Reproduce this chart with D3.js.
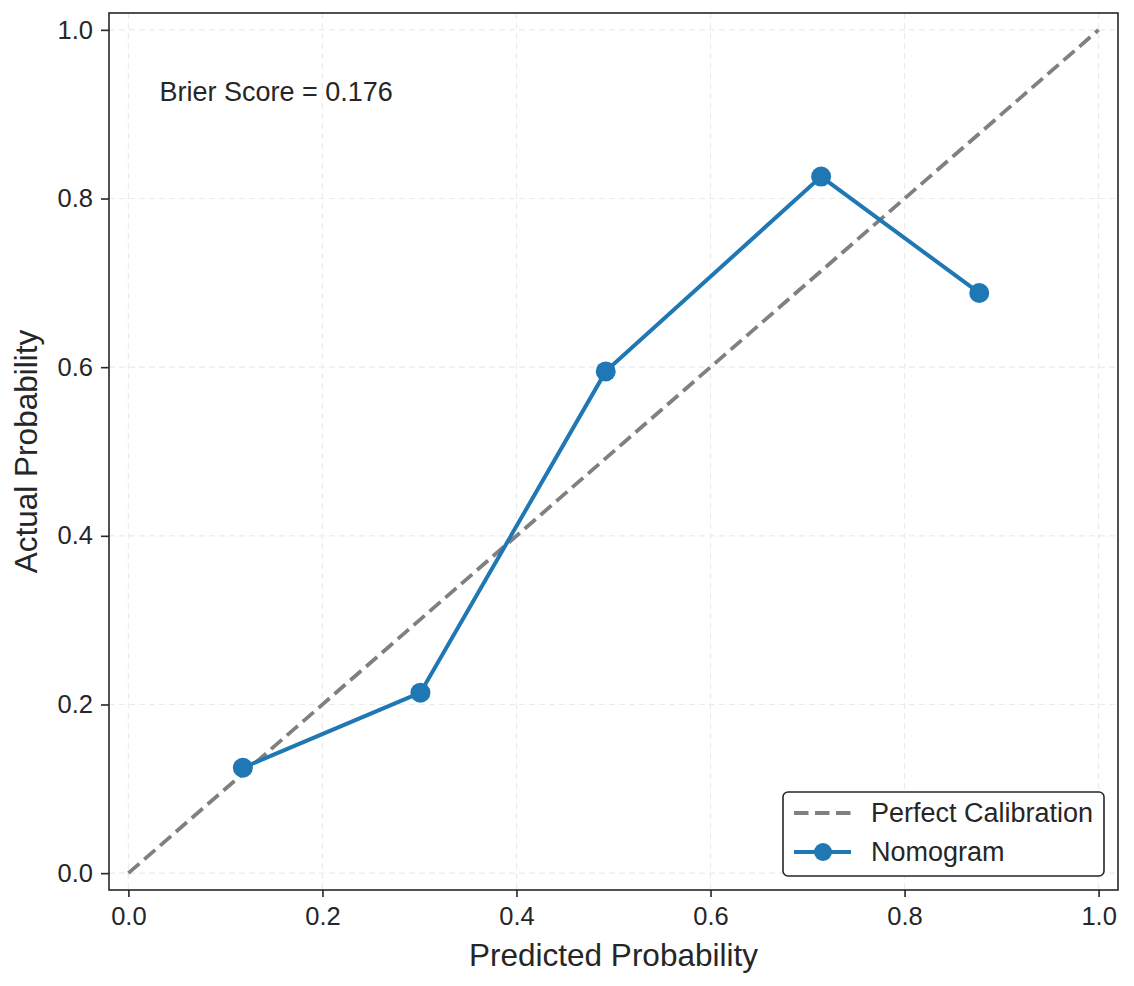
<!DOCTYPE html>
<html>
<head>
<meta charset="utf-8">
<script src="https://cdn.jsdelivr.net/npm/d3@7"></script>
<style>
  body { margin: 0; background: #fff; }
  text { font-family: "Liberation Sans", Arial, sans-serif; fill: #262626; }
</style>
</head>
<body>
<div id="chart"></div>
<script>
const predicted = [0.118, 0.301, 0.492, 0.714, 0.877];
const actual = [0.125, 0.214, 0.595, 0.826, 0.688];
const ticks = [0.0, 0.2, 0.4, 0.6, 0.8, 1.0];
const brier = 0.176;

const W = 1134, H = 986;
const margin = {top: 13, right: 16, bottom: 96, left: 109};
const width = W - margin.left - margin.right;
const height = H - margin.top - margin.bottom;

const svg = d3.select("#chart").append("svg")
  .attr("width", W).attr("height", H);
const g = svg.append("g")
  .attr("transform", `translate(${margin.left},${margin.top})`);

const x = d3.scaleLinear().domain([-0.02, 1.02]).range([0, width]);
const y = d3.scaleLinear().domain([-0.02, 1.02]).range([height, 0]);

// grid
g.append("g").selectAll("line").data(ticks).enter().append("line")
  .attr("x1", d => x(d)).attr("x2", d => x(d))
  .attr("y1", 0).attr("y2", height)
  .attr("stroke", "#ebebeb").attr("stroke-width", 1.2).attr("stroke-dasharray", "6,4");
g.append("g").selectAll("line").data(ticks).enter().append("line")
  .attr("y1", d => y(d)).attr("y2", d => y(d))
  .attr("x1", 0).attr("x2", width)
  .attr("stroke", "#ebebeb").attr("stroke-width", 1.2).attr("stroke-dasharray", "6,4");

// axes
const xAxis = g.append("g")
  .attr("transform", `translate(0,${height})`)
  .call(d3.axisBottom(x).tickValues(ticks).tickFormat(d3.format(".1f")).tickSize(7).tickPadding(10));
const yAxis = g.append("g")
  .call(d3.axisLeft(y).tickValues(ticks).tickFormat(d3.format(".1f")).tickSize(8).tickPadding(8));
[xAxis, yAxis].forEach(a => {
  a.select(".domain").remove();
  a.selectAll("line").attr("stroke", "#262626").attr("stroke-width", 1.6);
  a.selectAll("text").style("font-size", "25.5px").attr("fill", "#262626");
});

// frame
g.append("rect").attr("width", width).attr("height", height)
  .attr("fill", "none").attr("stroke", "#262626").attr("stroke-width", 1.6);

// perfect calibration
g.append("line")
  .attr("x1", x(0)).attr("y1", y(0)).attr("x2", x(1)).attr("y2", y(1))
  .attr("stroke", "#808080").attr("stroke-width", 3.8).attr("stroke-dasharray", "14.5,6.5");

const pts = predicted.map((p, i) => [p, actual[i]]);
g.append("path").datum(pts)
  .attr("fill", "none").attr("stroke", "#1f77b4").attr("stroke-width", 4)
  .attr("d", d3.line().x(d => x(d[0])).y(d => y(d[1])));
g.selectAll(".dot").data(pts).enter().append("circle")
  .attr("cx", d => x(d[0])).attr("cy", d => y(d[1])).attr("r", 10)
  .attr("fill", "#1f77b4");

// brier text
g.append("text").attr("x", x(0.032)).attr("y", y(0.927)).attr("dy", "0.35em")
  .style("font-size", "27px").text(`Brier Score = ${brier.toFixed(3)}`);

// axis labels
svg.append("text").attr("x", margin.left + width / 2).attr("y", 966)
  .attr("text-anchor", "middle").style("font-size", "31.5px").text("Predicted Probability");
svg.append("text").attr("transform", `translate(37,${margin.top + height / 2}) rotate(-90)`)
  .attr("text-anchor", "middle").style("font-size", "31.5px").text("Actual Probability");

// legend
const lg = svg.append("g").attr("transform", "translate(783,792)");
lg.append("rect").attr("width", 321).attr("height", 84).attr("rx", 5)
  .attr("fill", "#fff").attr("stroke", "#262626").attr("stroke-width", 1.6);
lg.append("line").attr("x1", 11).attr("x2", 68).attr("y1", 21).attr("y2", 21)
  .attr("stroke", "#808080").attr("stroke-width", 3.8).attr("stroke-dasharray", "14.5,6.5");
lg.append("line").attr("x1", 11).attr("x2", 68).attr("y1", 60).attr("y2", 60)
  .attr("stroke", "#1f77b4").attr("stroke-width", 4);
lg.append("circle").attr("cx", 40).attr("cy", 60).attr("r", 9).attr("fill", "#1f77b4");
lg.append("text").attr("x", 88).attr("y", 21).attr("dy", "0.35em")
  .style("font-size", "27px").text("Perfect Calibration");
lg.append("text").attr("x", 88).attr("y", 60).attr("dy", "0.35em")
  .style("font-size", "27px").text("Nomogram");
</script>
</body>
</html>
